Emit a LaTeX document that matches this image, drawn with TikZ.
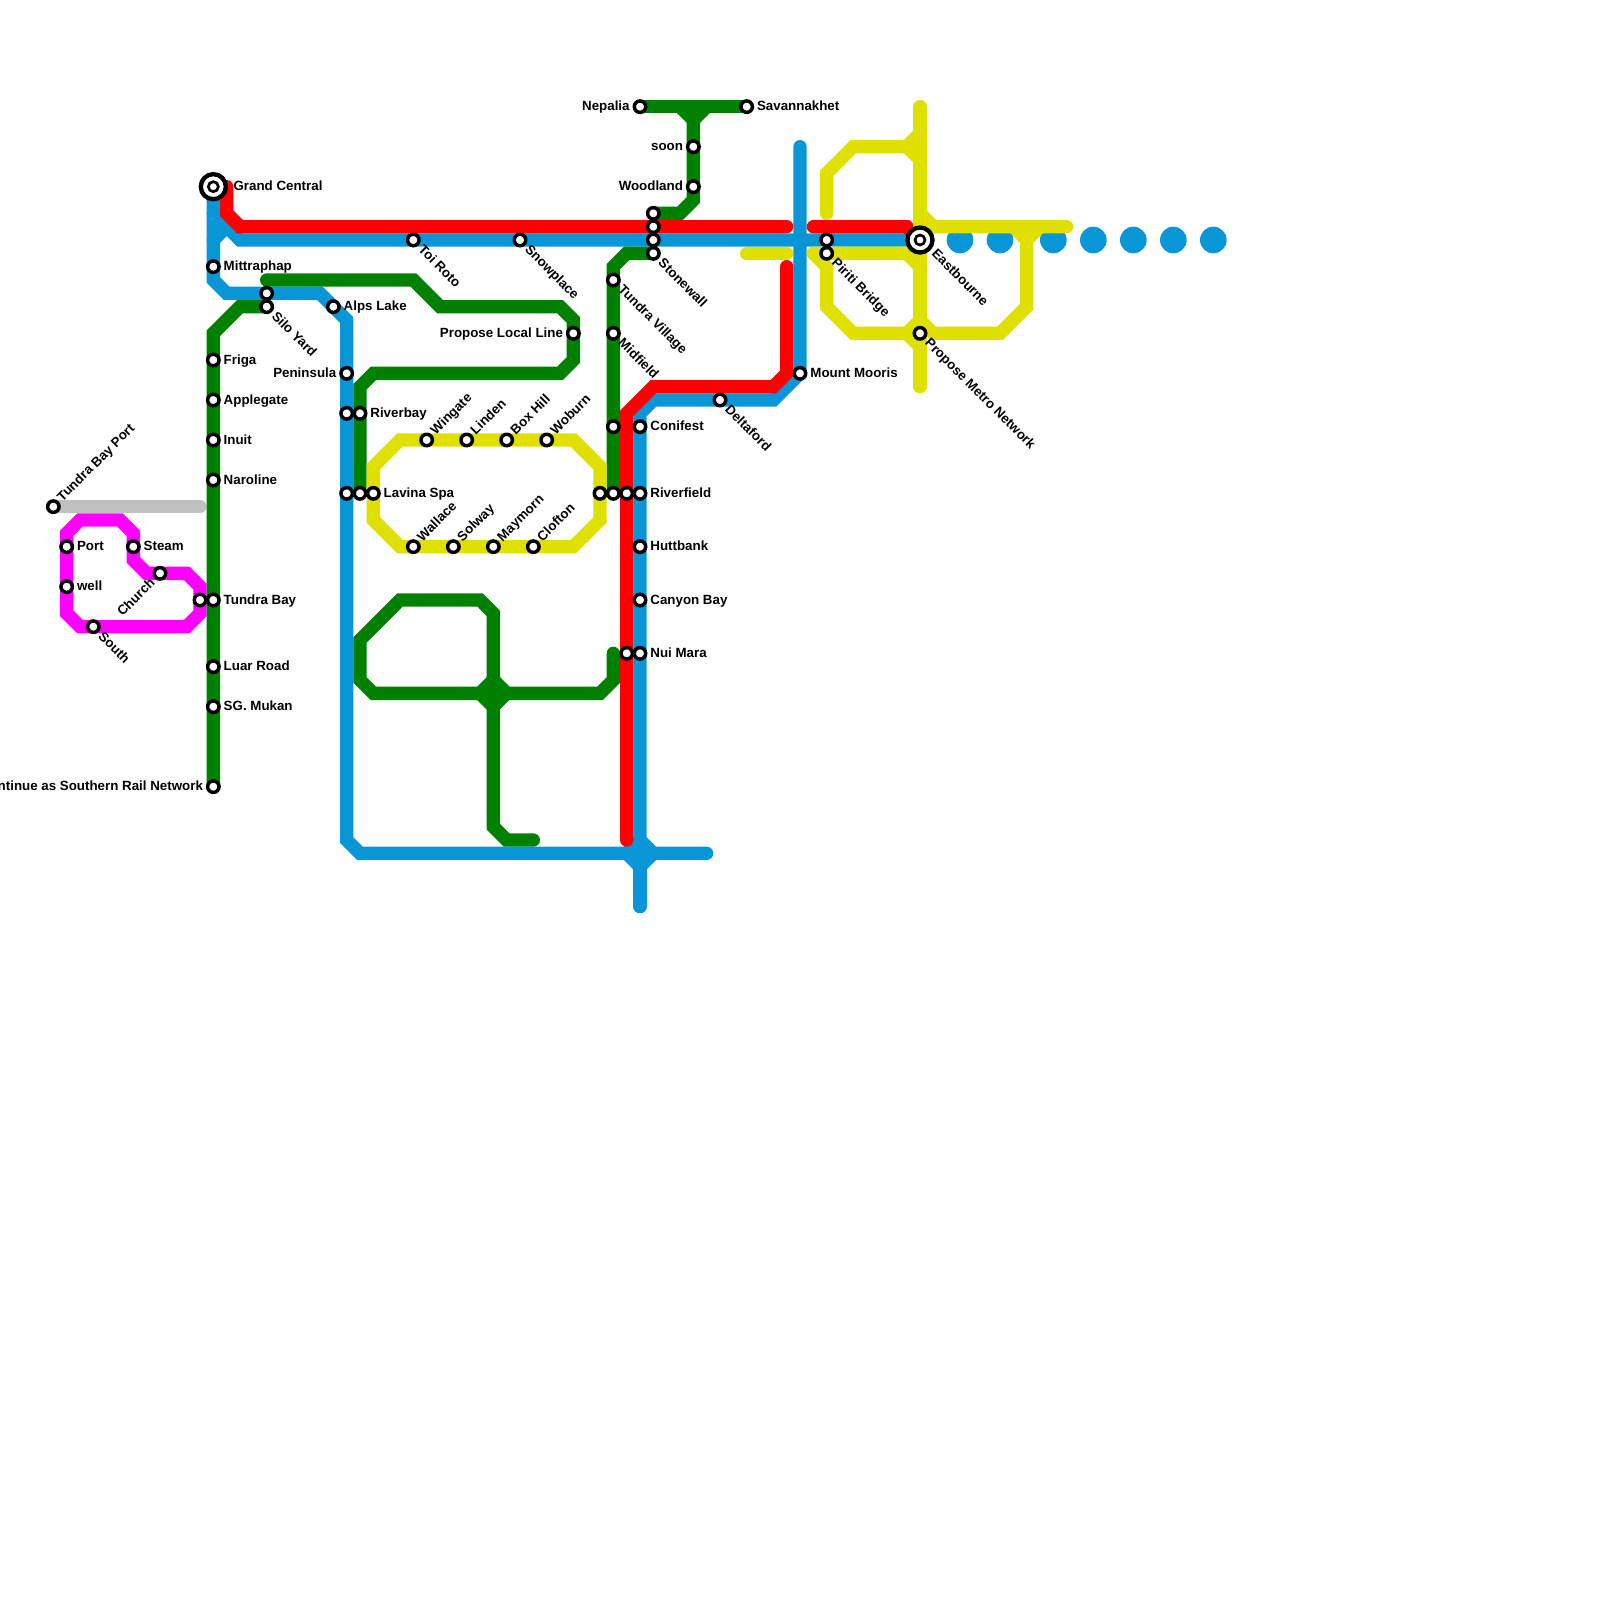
\documentclass[tikz,border=0pt]{standalone}
\usepackage{fontspec}
\setmainfont{Liberation Sans}
\usetikzlibrary{backgrounds}
\definecolor{lblue}{HTML}{0896D7}
\definecolor{lgreen}{HTML}{008000}
\definecolor{lyellow}{HTML}{E0E000}
\definecolor{lred}{HTML}{FF0000}
\definecolor{lgray}{HTML}{C0C0C0}
\definecolor{lmag}{HTML}{FF00FF}
\tikzset{
  metro/.style={line width=10pt,line cap=round,line join=miter,miter limit=10},
  station/.style={circle,draw=black,fill=white,line width=2.6pt,minimum size=8.6pt,inner sep=0pt,outer sep=0pt},
  hubring/.style={circle,draw=black,fill=white,line width=3.25pt,minimum size=18.8pt,inner sep=0pt,outer sep=0pt},
  hubcore/.style={circle,draw=black,fill=white,line width=2pt,minimum size=7.5pt,inner sep=0pt,outer sep=0pt},
  lbl/.style={font=\bfseries\fontsize{10}{12}\selectfont,inner sep=0pt,text height=7.2pt,text depth=2pt,text=black},
  lR/.style={lbl,anchor=west,xshift=7.6pt,yshift=-0.5pt},
  lL/.style={lbl,anchor=east,xshift=-7.6pt,yshift=-0.5pt},
  lU/.style={lbl,anchor=west,xshift=5pt,yshift=5.2pt,rotate=45},
  lD/.style={lbl,anchor=west,xshift=5pt,yshift=-6pt,rotate=-45},
}
\newcommand{\stn}[3]{\node[station] (#1) at (#2,#3) {};}
\begin{document}
\begin{tikzpicture}[x=10pt,y=-10pt]
\useasboundingbox (0,0) rectangle (120,120);
% stations
\node[hubring] (gcring) at (16,14) {};
\node[hubcore] (gc) at (16,14) {};
\stn{mitt}{16}{20}
\stn{silob}{20}{22}
\stn{siloa}{20}{23}
\stn{alps}{25}{23}
\stn{penin}{26}{28}
\stn{friga}{16}{27}
\stn{apple}{16}{30}
\stn{inuit}{16}{33}
\stn{narol}{16}{36}
\stn{rivb}{26}{31}
\stn{riverbay}{27}{31}
\stn{lavc}{26}{37}
\stn{lavb}{27}{37}
\stn{lavina}{28}{37}
\stn{tbp}{4}{38}
\stn{port}{5}{41}
\stn{well}{5}{44}
\stn{steam}{10}{41}
\stn{church}{12}{43}
\stn{tbb}{15}{45}
\stn{tundrabay}{16}{45}
\stn{south}{7}{47}
\stn{luar}{16}{50}
\stn{mukan}{16}{53}
\stn{cont}{16}{59}
\stn{toi}{31}{18}
\stn{snow}{39}{18}
\stn{wing}{32}{33}
\stn{linden}{35}{33}
\stn{boxhill}{38}{33}
\stn{woburn}{41}{33}
\stn{wallace}{31}{41}
\stn{solway}{34}{41}
\stn{maymorn}{37}{41}
\stn{clofton}{40}{41}
\stn{plocal}{43}{25}
\stn{nepalia}{48}{8}
\stn{savan}{56}{8}
\stn{soon}{52}{11}
\stn{woodland}{52}{14}
\stn{swa}{49}{16}
\stn{swb}{49}{17}
\stn{swc}{49}{18}
\stn{stonewall}{49}{19}
\stn{tvillage}{46}{21}
\stn{midfield}{46}{25}
\stn{gthree}{46}{32}
\stn{conifest}{48}{32}
\stn{rfa}{45}{37}
\stn{rfb}{46}{37}
\stn{rfc}{47}{37}
\stn{riverfield}{48}{37}
\stn{huttbank}{48}{41}
\stn{canyon}{48}{45}
\stn{nmb}{47}{49}
\stn{nuimara}{48}{49}
\stn{delta}{54}{30}
\stn{mooris}{60}{28}
\stn{pirb}{62}{18}
\stn{piriti}{62}{19}
\node[hubring] (ebring) at (69,18) {};
\node[hubcore] (east) at (69,18) {};
\stn{pmetro}{69}{25}
% labels
\node[lbl,anchor=west,xshift=15pt,yshift=-0.5pt] (tgc) at (gc.center) {Grand Central};
\node[lR] (tmitt) at (mitt.center) {Mittraphap};
\node[lR] (talps) at (alps.center) {Alps Lake};
\node[lR] (tfriga) at (friga.center) {Friga};
\node[lR] (tapple) at (apple.center) {Applegate};
\node[lR] (tinuit) at (inuit.center) {Inuit};
\node[lR] (tnarol) at (narol.center) {Naroline};
\node[lR] (trb) at (riverbay.center) {Riverbay};
\node[lR] (tlav) at (lavina.center) {Lavina Spa};
\node[lR] (tport) at (port.center) {Port};
\node[lR] (twell) at (well.center) {well};
\node[lR] (tsteam) at (steam.center) {Steam};
\node[lR] (ttb) at (tundrabay.center) {Tundra Bay};
\node[lR] (tluar) at (luar.center) {Luar Road};
\node[lR] (tmukan) at (mukan.center) {SG. Mukan};
\node[lR] (tconi) at (conifest.center) {Conifest};
\node[lR] (trf) at (riverfield.center) {Riverfield};
\node[lR] (thutt) at (huttbank.center) {Huttbank};
\node[lR] (tcan) at (canyon.center) {Canyon Bay};
\node[lR] (tnui) at (nuimara.center) {Nui Mara};
\node[lR] (tmoor) at (mooris.center) {Mount Mooris};
\node[lR] (tsav) at (savan.center) {Savannakhet};
\node[lL] (tpen) at (penin.center) {Peninsula};
\node[lL] (tpll) at (plocal.center) {Propose Local Line};
\node[lL] (tnep) at (nepalia.center) {Nepalia};
\node[lL] (tsoon) at (soon.center) {soon};
\node[lL] (twood) at (woodland.center) {Woodland};
\node[lL] (tcont) at (cont.center) {Continue as Southern Rail Network};
\node[lU] (ttbp) at (tbp.center) {Tundra Bay Port};
\node[lU] (twing) at (wing.center) {Wingate};
\node[lU] (tlin) at (linden.center) {Linden};
\node[lU] (tbox) at (boxhill.center) {Box Hill};
\node[lU] (twob) at (woburn.center) {Woburn};
\node[lU] (twal) at (wallace.center) {Wallace};
\node[lU] (tsol) at (solway.center) {Solway};
\node[lU] (tmay) at (maymorn.center) {Maymorn};
\node[lU] (tclo) at (clofton.center) {Clofton};
\node[lbl,anchor=east,xshift=-5pt,yshift=-6pt,rotate=45] (tchu) at (church.center) {Church};
\node[lD] (tsilo) at (siloa.center) {Silo Yard};
\node[lD] (ttoi) at (toi.center) {Toi Roto};
\node[lD] (tsnow) at (snow.center) {Snowplace};
\node[lD] (tstone) at (stonewall.center) {Stonewall};
\node[lD] (ttv) at (tvillage.center) {Tundra Village};
\node[lD] (tmid) at (midfield.center) {Midfield};
\node[lD] (tpir) at (piriti.center) {Piriti Bridge};
\node[lD] (tdel) at (delta.center) {Deltaford};
\node[lD] (tsou) at (south.center) {South};
\node[lbl,anchor=west,xshift=10pt,yshift=-9pt,rotate=-45] (teast) at (east.center) {Eastbourne};
\node[lD] (tpm) at (pmetro.center) {Propose Metro Network};
% lines
\begin{pgfonlayer}{background}
\foreach \dx in {72,75,79,82,85,88,91} \fill[lblue] (\dx,18) circle (1);
\draw[metro,lgray] (tbp.center) -- (15,38);
\draw[metro,lmag] (5,40) -- (6,39) -- (9,39) -- (10,40) -- (10,42) -- (11,43) -- (14,43) -- (15,44) -- (15,46) -- (14,47) -- (6,47) -- (5,46) -- cycle;
% blue
\draw[metro,lblue] (gc.center) -- (16,21) -- (17,22) -- (24,22) -- (26,24) -- (26,63) -- (27,64) -- (53,64);
\draw[metro,lblue] (60,11) -- (mooris.center) -- (58,30) -- (49,30) -- (48,31) -- (48,63);
\draw[metro,lblue] (47,64) -- (48,63) -- (49,64) -- (48,65) -- cycle;
\draw[metro,lblue] (48,65) -- (48,68);
\draw[metro,lblue] (16,16) -- (18,18) -- (east.center);
\draw[metro,lblue] (16,18) -- (17,17);
% green
\draw[metro,lgreen] (cont.center) -- (16,25) -- (18,23) -- (siloa.center);
\draw[metro,lgreen] (20,21) -- (31,21) -- (33,23) -- (42,23) -- (43,24) -- (43,27) -- (42,28) -- (28,28) -- (27,29) -- (lavb.center);
\draw[metro,lgreen] (nepalia.center) -- (savan.center);
\draw[metro,lgreen] (51,8) -- (52,9) -- (52,15) -- (51,16) -- (swa.center);
\draw[metro,lgreen] (53,8) -- (52,9);
\draw[metro,lgreen] (stonewall.center) -- (47,19) -- (46,20) -- (rfb.center);
\draw[metro,lgreen] (46,49) -- (46,51) -- (45,52) -- (28,52) -- (27,51) -- (27,48) -- (30,45) -- (36,45) -- (37,46) -- (37,62) -- (38,63) -- (40,63);
\draw[metro,lgreen] (36,52) -- (37,51) -- (38,52) -- (37,53) -- cycle;
% red
\draw[metro,lred] (17,14) -- (17,16) -- (18,17) -- (59,17);
\draw[metro,lred] (61,17) -- (68,17) -- (east.center);
\draw[metro,lred] (59,20) -- (59,28) -- (58,29) -- (49,29) -- (47,31) -- (47,63);
% yellow
\draw[metro,lyellow] (28,35) -- (30,33) -- (43,33) -- (45,35) -- (45,39) -- (43,41) -- (30,41) -- (28,39) -- cycle;
\draw[metro,lyellow] (62,16) -- (62,13) -- (64,11) -- (68,11) -- (69,12);
\draw[metro,lyellow] (68,11) -- (69,10);
\draw[metro,lyellow] (69,8) -- (69,29);
\draw[metro,lyellow] (69,16) -- (70,17) -- (80,17);
\draw[metro,lyellow] (76,17) -- (77,18) -- (78,17);
\draw[metro,lyellow] (77,18) -- (77,23) -- (75,25) -- (70,25) -- (69,24);
\draw[metro,lyellow] (69,24) -- (68,25) -- (64,25) -- (62,23) -- (62,20) -- (61,19);
\draw[metro,lyellow] (61,19) -- (68,19) -- (69,20);
\draw[metro,lyellow] (68,25) -- (69,26);
\draw[metro,lyellow] (56,19) -- (59,19);
\end{pgfonlayer}
\end{tikzpicture}
\end{document}
